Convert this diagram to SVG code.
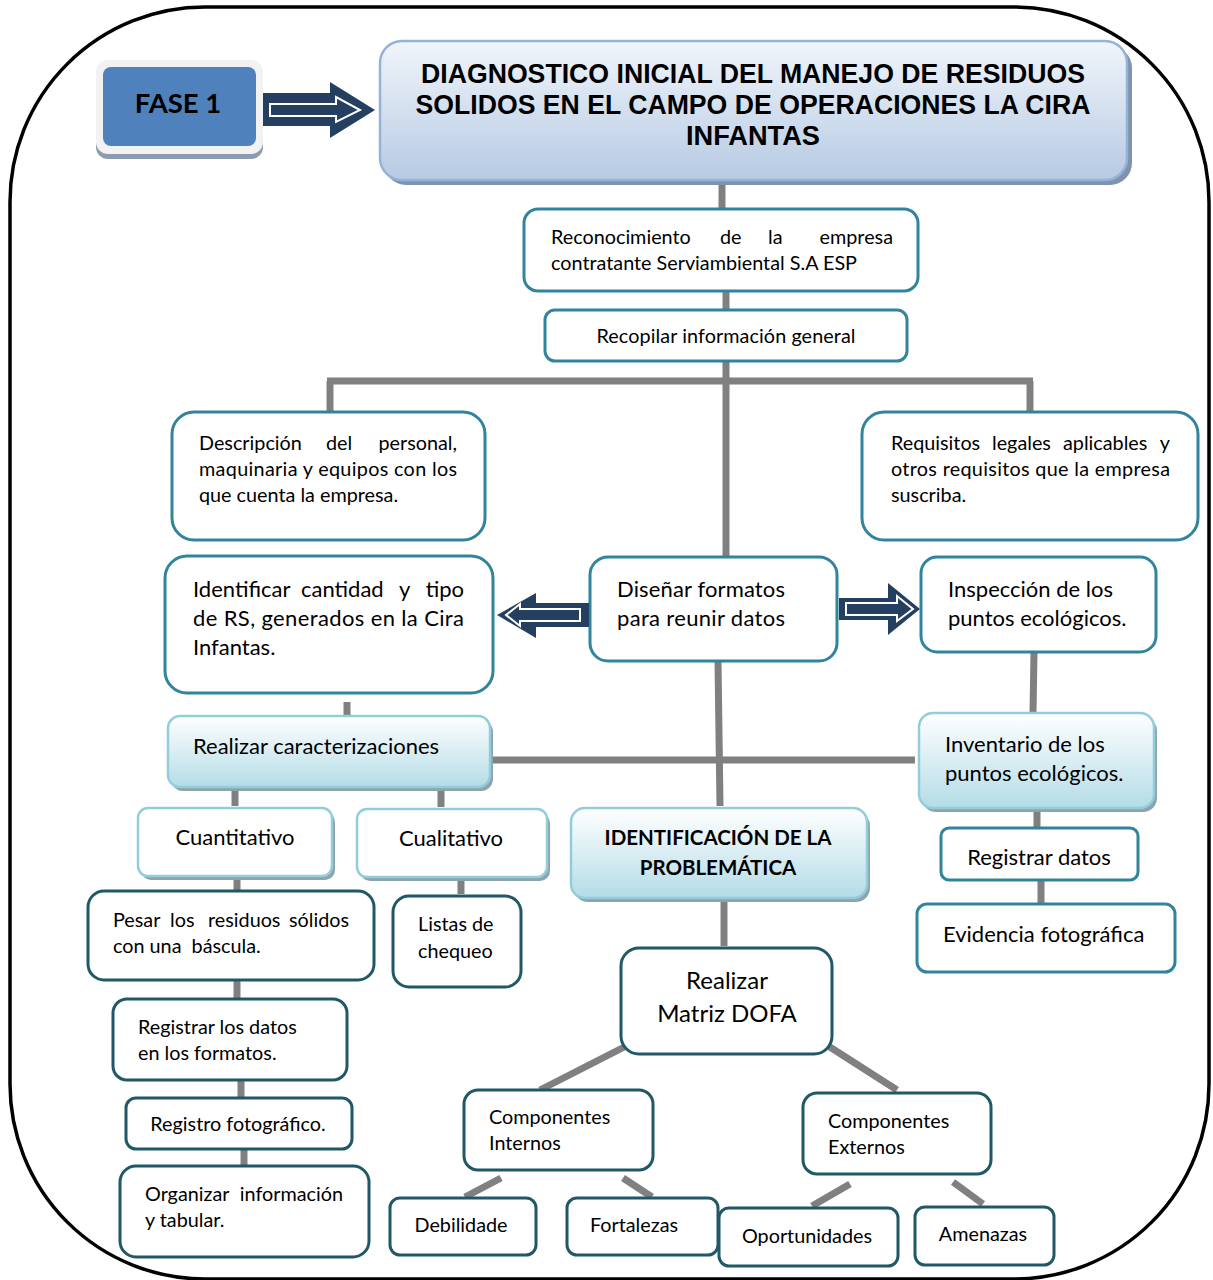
<svg xmlns="http://www.w3.org/2000/svg" width="1213" height="1280" viewBox="0 0 1213 1280">
  <defs>
    <linearGradient id="gTitle" x1="0" y1="0" x2="0" y2="1">
      <stop offset="0" stop-color="#F1F5FB"/>
      <stop offset="1" stop-color="#B6CAE3"/>
    </linearGradient>
    <linearGradient id="gAqua" x1="0" y1="0" x2="0" y2="1">
      <stop offset="0" stop-color="#FFFFFF"/>
      <stop offset="1" stop-color="#B4DCE7"/>
    </linearGradient>
    <style>
      .t { font-family: Lato, "Open Sans", "Liberation Sans", sans-serif; font-size: 19.8px; fill: #000; }
      .tl { font-family: Lato, "Open Sans", "Liberation Sans", sans-serif; font-size: 22px; fill: #000; }
      .tb { font-family: Lato, "Open Sans", "Liberation Sans", sans-serif; font-size: 20.5px; font-weight: bold; fill: #000; }
      .title { font-family: "Liberation Sans", Arial, sans-serif; font-size: 27px; font-weight: bold; fill: #000; }
      .box { fill: #fff; stroke: #31849B; stroke-width: 3; }
      .box2 { fill: #fff; stroke: #215867; stroke-width: 3; }
      .aqua { fill: url(#gAqua); stroke: #92CDDC; stroke-width: 2.5; }
      .white { fill: #fff; stroke: #92CDDC; stroke-width: 2.5; }
      .shadow { fill: #8EA4AD; }
      .conn { stroke: #808080; stroke-width: 7; fill: none; }
      .arrow { fill: #243F60; }
      .arrowIn { fill: none; stroke: #fff; stroke-width: 2; }
      .c { text-anchor: middle; }
      .e { text-anchor: end; }
    </style>
  </defs>

  <rect width="1213" height="1280" fill="#fff"/>

  <!-- outer frame -->
  <rect x="10" y="7" width="1199" height="1272" rx="195" ry="195" fill="none" stroke="#000" stroke-width="3.5"/>

  <!-- connectors -->
  <g id="connectors">
    <line class="conn" x1="722" y1="182" x2="722" y2="209"/>
    <line class="conn" x1="726" y1="291" x2="726" y2="310"/>
    <line class="conn" x1="726" y1="361" x2="726" y2="557"/>
    <line class="conn" x1="327" y1="381" x2="1033" y2="381"/>
    <line class="conn" x1="330" y1="381" x2="330" y2="412"/>
    <line class="conn" x1="1030" y1="381" x2="1030" y2="412"/>
    <line class="conn" x1="718" y1="661" x2="720" y2="806"/>
    <line class="conn" x1="1034" y1="652" x2="1033" y2="713"/>
    <line class="conn" x1="347" y1="702" x2="347" y2="719"/>
    <line class="conn" x1="490" y1="760" x2="915" y2="760"/>
    <line class="conn" x1="235" y1="788" x2="235" y2="806"/>
    <line class="conn" x1="441" y1="789" x2="441" y2="807"/>
    <line class="conn" x1="1037" y1="808" x2="1037" y2="828"/>
    <line class="conn" x1="1041" y1="881" x2="1041" y2="904"/>
    <line class="conn" x1="237" y1="877" x2="237" y2="892"/>
    <line class="conn" x1="461" y1="877" x2="461" y2="894"/>
    <line class="conn" x1="237" y1="980" x2="237" y2="998"/>
    <line class="conn" x1="241" y1="1080" x2="241" y2="1097"/>
    <line class="conn" x1="244" y1="1150" x2="244" y2="1167"/>
    <line class="conn" x1="724" y1="902" x2="724" y2="946"/>
    <line class="conn" stroke-width="8" x1="634" y1="1042" x2="540" y2="1090"/>
    <line class="conn" stroke-width="8" x1="822" y1="1042" x2="897" y2="1090"/>
    <line class="conn" x1="501" y1="1178" x2="465" y2="1197"/>
    <line class="conn" x1="623" y1="1178" x2="652" y2="1197"/>
    <line class="conn" x1="850" y1="1184" x2="812" y2="1206"/>
    <line class="conn" x1="953" y1="1182" x2="983" y2="1204"/>
  </g>

  <!-- FASE 1 -->
  <g id="fase1">
    <rect x="96" y="66" width="167" height="93" rx="12" fill="#8C9BAE"/>
    <rect x="96" y="60" width="167" height="94" rx="12" fill="#F2F2F2"/>
    <rect x="103" y="67" width="153" height="79" rx="8" fill="#4F81BD"/>
    <text x="178" y="113" class="tb c" style="font-size:27.5px">FASE 1</text>
  </g>

  <!-- arrow into the title -->
  <g id="arrow-fase">
    <polygon class="arrow" points="263,93 330,93 330,82 375,110 330,138 330,126 263,126"/>
    <polygon class="arrowIn" points="270,104 336,104 336,97 360,110 336,122 336,116 270,116"/>
  </g>

  <!-- title -->
  <g id="title">
    <rect x="384" y="46" width="748" height="139" rx="22" fill="#7F93AD"/>
    <rect x="380" y="41" width="747" height="139" rx="22" fill="url(#gTitle)" stroke="#95B3D7" stroke-width="2.5"/>
    <text x="753" y="83" class="title c" textLength="664" lengthAdjust="spacingAndGlyphs">DIAGNOSTICO INICIAL DEL MANEJO DE RESIDUOS</text>
    <text x="753" y="114" class="title c" textLength="675" lengthAdjust="spacingAndGlyphs">SOLIDOS EN EL CAMPO DE OPERACIONES LA CIRA</text>
    <text x="753" y="145" class="title c" textLength="134" lengthAdjust="spacingAndGlyphs">INFANTAS</text>
  </g>

  <g id="reconocimiento">
    <rect class="box" x="524" y="209" width="394" height="82" rx="14"/>
    <text class="t" y="244"><tspan x="551">Reconocimiento</tspan><tspan x="720">de</tspan><tspan x="768">la</tspan></text>
    <text class="t e" x="893" y="244">empresa</text>
    <text class="t" x="551" y="270" textLength="306">contratante Serviambiental S.A ESP</text>
  </g>

  <g id="recopilar">
    <rect class="box" x="545" y="310" width="362" height="51" rx="10"/>
    <text class="t c" x="726" y="343" textLength="259">Recopilar información general</text>
  </g>

  <g id="descripcion">
    <rect class="box" x="172" y="412" width="313" height="128" rx="22"/>
    <text class="t" y="450"><tspan x="199">Descripción</tspan><tspan x="326">del</tspan></text>
    <text class="t e" x="457" y="450">personal,</text>
    <text class="t" x="199" y="476" textLength="258">maquinaria y equipos con los</text>
    <text class="t" x="199" y="502">que cuenta la empresa.</text>
  </g>

  <g id="requisitos">
    <rect class="box" x="862" y="412" width="336" height="128" rx="22"/>
    <text class="t" y="450"><tspan x="891">Requisitos</tspan><tspan x="992">legales</tspan><tspan x="1063">aplicables</tspan></text>
    <text class="t e" x="1170" y="450">y</text>
    <text class="t" x="891" y="476" textLength="279">otros requisitos que la empresa</text>
    <text class="t" x="891" y="502">suscriba.</text>
  </g>

  <g id="identificar">
    <rect class="box" x="165" y="556" width="328" height="137" rx="22"/>
    <text class="tl" y="597"><tspan x="193">Identificar</tspan><tspan x="301">cantidad</tspan><tspan x="399">y</tspan></text>
    <text class="tl e" x="464" y="597">tipo</text>
    <text class="tl" x="193" y="626" textLength="271">de RS, generados en la Cira</text>
    <text class="tl" x="193" y="655">Infantas.</text>
  </g>

  <g id="disenar">
    <rect class="box" x="590" y="557" width="247" height="104" rx="18"/>
    <text class="tl" x="617" y="597" textLength="168">Diseñar formatos</text>
    <text class="tl" x="617" y="626" textLength="168">para reunir datos</text>
  </g>

  <!-- side arrows from Diseñar -->
  <g id="arrow-left">
    <polygon class="arrow" points="589,603 536,603 536,593 497,615 536,638 536,627 589,627"/>
    <polygon class="arrowIn" points="580,609 520,609 520,604 506,615 520,626 520,621 580,621"/>
  </g>
  <g id="arrow-right">
    <polygon class="arrow" points="839,598 888,598 888,583 920,609 888,635 888,620 839,620"/>
    <polygon class="arrowIn" points="846,603 897,603 897,596 913,609 897,621 897,615 846,615"/>
  </g>

  <g id="inspeccion">
    <rect class="box" x="921" y="557" width="235" height="95" rx="16"/>
    <text class="tl" x="948" y="597">Inspección de los</text>
    <text class="tl" x="948" y="626">puntos ecológicos.</text>
  </g>

  <g id="caracterizaciones">
    <rect class="shadow" x="171" y="720" width="322" height="71" rx="12"/>
    <rect class="aqua" x="168" y="716" width="322" height="71" rx="12"/>
    <text class="tl" x="193" y="754">Realizar caracterizaciones</text>
  </g>

  <g id="inventario">
    <rect class="shadow" x="922" y="717" width="235" height="95" rx="14"/>
    <rect class="aqua" x="919" y="713" width="235" height="95" rx="14"/>
    <text class="tl" x="945" y="752">Inventario de los</text>
    <text class="tl" x="945" y="781">puntos ecológicos.</text>
  </g>

  <g id="cuantitativo">
    <rect class="shadow" x="141" y="812" width="194" height="68" rx="10"/>
    <rect class="white" x="138" y="808" width="194" height="68" rx="10"/>
    <text class="tl c" x="235" y="845">Cuantitativo</text>
  </g>

  <g id="cualitativo">
    <rect class="shadow" x="360" y="813" width="190" height="68" rx="10"/>
    <rect class="white" x="357" y="809" width="190" height="68" rx="10"/>
    <text class="tl c" x="451" y="846">Cualitativo</text>
  </g>

  <g id="identificacion">
    <rect class="shadow" x="574" y="812" width="296" height="90" rx="14"/>
    <rect class="aqua" x="571" y="808" width="296" height="90" rx="14"/>
    <text class="tb c" x="718" y="845">IDENTIFICACIÓN DE LA</text>
    <text class="tb c" x="718" y="875">PROBLEMÁTICA</text>
  </g>

  <g id="registrar-datos">
    <rect class="box" x="941" y="828" width="197" height="52" rx="8"/>
    <text class="tl c" x="1039" y="865">Registrar datos</text>
  </g>

  <g id="evidencia">
    <rect class="box" x="917" y="904" width="258" height="68" rx="10"/>
    <text class="tl" x="943" y="942">Evidencia fotográfica</text>
  </g>

  <g id="pesar">
    <rect class="box2" x="88" y="891" width="286" height="89" rx="16"/>
    <text class="t" y="927"><tspan x="113">Pesar</tspan><tspan x="170">los</tspan><tspan x="208">residuos</tspan></text>
    <text class="t e" x="349" y="927">sólidos</text>
    <text class="t" x="113" y="953" xml:space="preserve">con una  báscula.</text>
  </g>

  <g id="listas">
    <rect class="box2" x="393" y="896" width="128" height="91" rx="16"/>
    <text class="t" x="418" y="931">Listas de</text>
    <text class="t" x="418" y="958">chequeo</text>
  </g>

  <g id="registrar-formatos">
    <rect class="box2" x="113" y="999" width="234" height="81" rx="14"/>
    <text class="t" x="138" y="1034">Registrar los datos</text>
    <text class="t" x="138" y="1060">en los formatos.</text>
  </g>

  <g id="registro-foto">
    <rect class="box2" x="126" y="1098" width="226" height="51" rx="10"/>
    <text class="t c" x="238" y="1131">Registro fotográfico.</text>
  </g>

  <g id="organizar">
    <rect class="box2" x="120" y="1166" width="249" height="91" rx="16"/>
    <text class="t" x="145" y="1201">Organizar</text>
    <text class="t e" x="343" y="1201">información</text>
    <text class="t" x="145" y="1227">y tabular.</text>
  </g>

  <g id="matriz-dofa">
    <rect class="box2" x="621" y="948" width="211" height="106" rx="18"/>
    <text class="tl c" x="727" y="989" style="font-size:24px">Realizar</text>
    <text class="tl c" x="727" y="1022" style="font-size:24px">Matriz DOFA</text>
  </g>

  <g id="internos">
    <rect class="box2" x="464" y="1090" width="189" height="80" rx="14"/>
    <text class="t" x="489" y="1124">Componentes</text>
    <text class="t" x="489" y="1150">Internos</text>
  </g>

  <g id="externos">
    <rect class="box2" x="803" y="1093" width="188" height="81" rx="14"/>
    <text class="t" x="828" y="1128">Componentes</text>
    <text class="t" x="828" y="1154">Externos</text>
  </g>

  <g id="debilidade">
    <rect class="box2" x="390" y="1198" width="146" height="57" rx="10"/>
    <text class="t c" x="461" y="1232">Debilidade</text>
  </g>

  <g id="fortalezas">
    <rect class="box2" x="567" y="1198" width="151" height="57" rx="10"/>
    <text class="t c" x="634" y="1232">Fortalezas</text>
  </g>

  <g id="oportunidades">
    <rect class="box2" x="719" y="1208" width="179" height="58" rx="10"/>
    <text class="t c" x="807" y="1243">Oportunidades</text>
  </g>

  <g id="amenazas">
    <rect class="box2" x="915" y="1207" width="139" height="58" rx="10"/>
    <text class="t c" x="983" y="1241">Amenazas</text>
  </g>
</svg>
